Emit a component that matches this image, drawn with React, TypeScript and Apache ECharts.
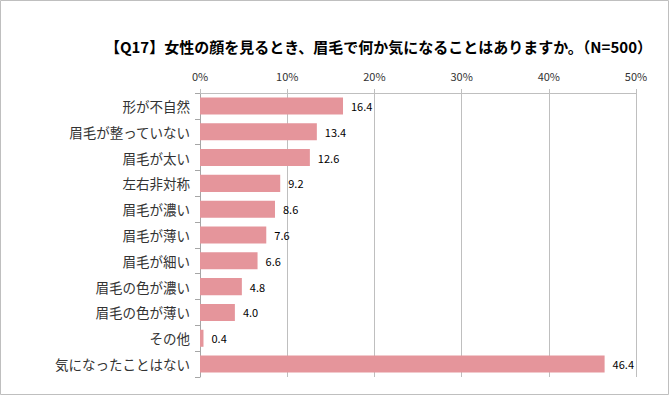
import React, { useEffect, useRef } from "react";
import * as echarts from "echarts";

const categories = [
  "形が不自然",
  "眉毛が整っていない",
  "眉毛が太い",
  "左右非対称",
  "眉毛が濃い",
  "眉毛が薄い",
  "眉毛が細い",
  "眉毛の色が濃い",
  "眉毛の色が薄い",
  "その他",
  "気になったことはない",
];
const values = [16.4, 13.4, 12.6, 9.2, 8.6, 7.6, 6.6, 4.8, 4.0, 0.4, 46.4];
const titleText = "【Q17】女性の顔を見るとき、眉毛で何か気になることはありますか。（N=500）";

const FONT = "'Noto Sans CJK JP', 'Noto Sans', sans-serif";

export default function App() {
  const ref = useRef<HTMLDivElement>(null);
  useEffect(() => {
    if (!ref.current) return;
    const chart = echarts.init(ref.current, undefined, { renderer: "svg" });
    chart.setOption({
      animation: false,
      backgroundColor: "#fff",
      title: {
        text: titleText,
        right: 14,
        top: 34,
        textStyle: { fontFamily: FONT, fontSize: 15, fontWeight: "bold", color: "#000" },
      },
      graphic: [
        {
          type: "rect",
          shape: { x: 0.5, y: 0.5, width: 668, height: 394 },
          style: { fill: "none", stroke: "#BFBFBF", lineWidth: 1 },
          z: 100,
        },
      ],
      grid: { left: 200, right: 35, top: 93, bottom: 19 },
      xAxis: {
        type: "value",
        position: "top",
        min: 0,
        max: 50,
        interval: 10,
        axisLine: { show: true, lineStyle: { color: "#BFBFBF" } },
        axisTick: { show: true, length: 4, lineStyle: { color: "#BFBFBF" } },
        splitLine: { show: true, lineStyle: { color: "#BFBFBF" } },
        axisLabel: {
          formatter: "{value}%",
          fontFamily: FONT,
          fontSize: 11,
          color: "#333",
          margin: 12,
        },
      },
      yAxis: {
        type: "category",
        data: categories,
        inverse: true,
        axisLine: { show: true, lineStyle: { color: "#A6A6A6" } },
        axisTick: { show: true, length: 5, lineStyle: { color: "#A6A6A6" } },
        axisLabel: { fontFamily: FONT, fontSize: 13.5, color: "#333", margin: 10 },
      },
      series: [
        {
          type: "bar",
          data: values,
          barCategoryGap: "34%",
          itemStyle: { color: "#E5959B" },
          label: {
            show: true,
            position: "right",
            distance: 8,
            formatter: (p: any) => Number(p.value).toFixed(1),
            fontFamily: FONT,
            fontSize: 11,
            color: "#000",
          },
        },
      ],
    });
    return () => chart.dispose();
  }, []);
  return (
    <div
      ref={ref}
      style={{ position: "fixed", left: 0, top: 0, width: 671, height: 396 }}
    />
  );
}
